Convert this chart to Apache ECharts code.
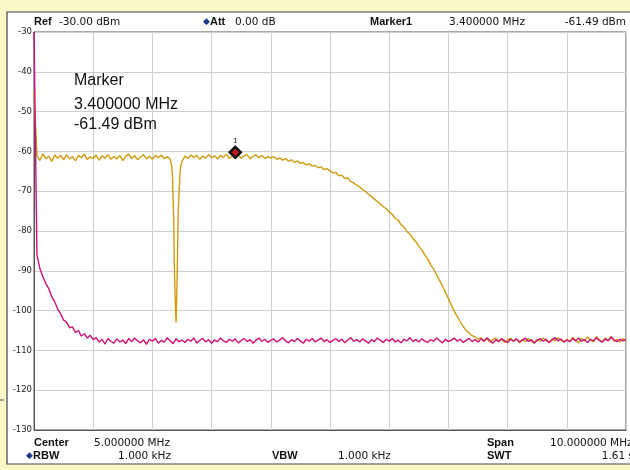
<!DOCTYPE html>
<html>
<head>
<meta charset="utf-8">
<script src="https://cdn.jsdelivr.net/npm/echarts@6/dist/echarts.min.js"></script>
<style>
  html, body { margin: 0; padding: 0; background: #fcf8c6; }
  #chart { width: 630px; height: 470px; }
</style>
</head>
<body>
<div id="chart"></div>
<script>
// sweep: 0 .. 10 MHz, one sample every 0.05 MHz
const startMHz = 0;
const stepMHz = 0.05;

// trace 1 (yellow), dBm
const yellowTrace = [
  -45, -61.0, -62.3, -60.6, -61.8, -61.2, -62.5, -60.9, -61.7, -61.0,
  -62.1, -60.8, -61.9, -61.3, -62.4, -61.0, -61.6, -60.7, -62.0, -61.4,
  -61.8, -60.9, -62.2, -61.1, -61.7, -60.8, -62.0, -61.3, -61.9, -61.0,
  -62.3, -61.2, -60.7, -61.8, -61.1, -62.1, -61.4, -60.8, -61.9, -61.2,
  -62.0, -61.0, -61.6, -60.9, -61.8, -61.3, -62.0, -72.5, -103, -70.5,
  -62.5, -61.2, -61.8, -60.9, -61.5, -61.0, -62.0, -61.2, -61.7, -60.8,
  -61.6, -61.1, -61.9, -61.0, -61.5, -60.7, -61.8, -61.2, -61.5, -60.9,
  -61.7, -61.1, -60.8, -61.9, -61.2, -60.9, -61.6, -61.0, -61.8, -61.3,
  -61.7, -61.3, -62.0, -61.6, -62.2, -61.8, -62.5, -62.1, -62.8, -62.4,
  -63.0, -62.8, -63.4, -63.1, -63.7, -63.5, -64.1, -63.9, -64.6, -64.3,
  -64.9, -65.4, -65.3, -66.1, -66.0, -66.8, -66.7, -67.6, -67.9, -68.5,
  -68.9, -69.6, -70.0, -70.8, -71.3, -72.0, -72.6, -73.2, -73.9, -74.4,
  -75.2, -75.8, -76.8, -77.3, -78.4, -79.0, -80.1, -80.8, -81.9, -82.7,
  -83.8, -84.7, -86.0, -87.0, -88.5, -89.6, -91.0, -92.4, -93.8, -95.4,
  -97.0, -98.6, -100.2, -101.5, -102.8, -104.0, -105.0, -105.6, -106.3, -106.6,
  -107.2, -106.8, -107.6, -107.1, -107.9, -107.3, -106.9, -107.8, -107.2, -108.0,
  -107.4, -106.9, -107.7, -107.1, -108.1, -107.3, -107.8, -107.0, -107.6, -108.2,
  -107.2, -107.7, -106.9, -107.5, -108.0, -107.1, -107.6, -106.8, -107.4, -107.9,
  -107.2, -107.8, -106.7, -107.5, -108.1, -107.0, -107.6, -106.6, -107.3, -107.9,
  -106.5, -107.4, -107.8, -106.9, -107.5, -106.4, -107.7, -107.2, -107.9, -107.0,
  -107.6
];

// extra readings inside the narrow notch near 2.4 MHz
const notchFreq = [2.325, 2.34, 2.36, 2.37, 2.385, 2.41, 2.42, 2.435, 2.465, 2.48];
const notchLevel = [-63.5, -66.5, -77, -88, -97, -97, -90, -76, -66, -63.5];

// trace 2 (magenta), dBm
const magentaTrace = [
  -30, -86, -89.5, -91.5, -93.2, -94.5, -96.5, -97.8, -99.6, -100.8,
  -102.4, -102.9, -104.3, -104.1, -105.5, -105.0, -106.4, -105.8, -106.9, -106.2,
  -107.3, -106.8, -107.9, -107.2, -108.4, -107.0, -107.7, -108.2, -107.1, -107.9,
  -107.4, -108.3, -107.0, -107.8, -106.9, -107.6, -108.1, -107.3, -108.5, -107.2,
  -107.7, -107.0, -108.2, -107.5, -107.9, -106.8, -107.6, -108.3, -107.1, -107.8,
  -107.4, -108.0, -107.2, -107.7, -106.9, -108.1, -107.5, -107.0, -107.9, -107.3,
  -108.2, -107.4, -107.8, -106.9, -107.6, -108.0, -107.2, -107.7, -107.1, -108.1,
  -107.5, -107.0, -107.8, -107.3, -108.2, -107.4, -106.9, -107.7, -107.2, -108.0,
  -107.5, -107.1, -107.9, -107.4, -106.8, -107.6, -108.1, -107.3, -107.8, -107.0,
  -107.6, -108.2, -107.2, -107.7, -107.0, -107.9, -107.4, -106.9, -107.8, -107.3,
  -108.0, -107.5, -107.0, -107.8, -107.2, -108.1, -107.4, -106.8, -107.7, -107.3,
  -107.9, -107.1, -107.6, -108.2, -107.3, -107.8, -106.9, -107.5, -108.0, -107.2,
  -107.7, -107.0, -107.9, -107.4, -108.1, -107.2, -107.6, -106.8, -107.8, -107.3,
  -107.9, -107.1, -107.6, -108.0, -107.3, -107.7, -106.9, -107.5, -108.1, -107.2,
  -107.8, -107.4, -106.9, -107.7, -107.2, -108.0, -107.5, -107.0, -107.8, -107.3,
  -107.9, -107.1, -107.7, -106.8, -107.5, -108.2, -107.3, -107.8, -107.0, -107.6,
  -108.0, -107.2, -107.7, -107.1, -107.9, -107.4, -106.9, -107.8, -107.3, -108.1,
  -107.5, -107.0, -107.7, -107.2, -108.0, -107.4, -106.8, -107.6, -107.1, -107.9,
  -107.4, -107.8, -107.0, -107.6, -106.9, -107.7, -107.3, -108.0, -107.2, -107.6,
  -106.8, -107.5, -107.9, -107.1, -107.6, -106.7, -107.4, -107.8, -107.2, -107.6,
  -107.3
];

// marker 1
const markerFreq = 3.4;
const markerLevel = -61.49;

// y axis
const yMin = -130;
const yMax = -30;
const yStep = 10;

const chart = echarts.init(document.getElementById('chart'));

function toPairs(levels) {
  return levels.map((v, i) => [+(startMHz + i * stepMHz).toFixed(3), v]);
}

const yellowData = toPairs(yellowTrace)
  .concat(notchFreq.map((f, i) => [f, notchLevel[i]]))
  .sort((a, b) => a[0] - b[0]);
const magentaData = toPairs(magentaTrace);

const hdrFont = '10.5px "DejaVu Sans"';
const boldFont = 'bold 11px "Liberation Sans"';

function txt(x, y, text, font, align, fill) {
  return {
    type: 'text', z: 10,
    style: {
      x: x, y: y, text: text, font: font,
      fill: fill || '#111', align: align || 'left', verticalAlign: 'middle'
    }
  };
}

const option = {
  backgroundColor: '#fcf8c6',
  animation: false,
  grid: {
    left: 34, right: 4, top: 32, bottom: 40,
    show: true, borderColor: '#555', borderWidth: 1
  },
  xAxis: {
    type: 'value', min: 0, max: 10, interval: 1,
    axisLine: { show: true, lineStyle: { color: '#555' } },
    axisTick: { show: false },
    axisLabel: { show: false },
    splitLine: { show: true, lineStyle: { color: '#cfcfcf', width: 1 } }
  },
  yAxis: {
    type: 'value', min: yMin, max: yMax, interval: yStep,
    axisLine: { show: true, lineStyle: { color: '#555' } },
    axisTick: { show: false },
    axisLabel: {
      margin: 2, fontFamily: 'DejaVu Sans', fontSize: 8.5, color: '#222'
    },
    splitLine: { show: true, lineStyle: { color: '#cfcfcf', width: 1 } }
  },
  series: [
    {
      name: 'Trace 1', type: 'line', data: yellowData,
      showSymbol: false, symbol: 'none',
      lineStyle: { color: '#cf9b12', width: 1.4 },
      markPoint: {
        symbol: 'diamond', symbolSize: [11, 11], symbolOffset: [0, -5],
        itemStyle: { color: '#c4141c', borderColor: '#111', borderWidth: 2.5 },
        label: {
          show: true, position: 'top', distance: 1, formatter: '1',
          fontFamily: 'DejaVu Sans', fontSize: 7, color: '#111'
        },
        data: [{ coord: [markerFreq, markerLevel] }]
      }
    },
    {
      name: 'Trace 2', type: 'line', data: magentaData,
      showSymbol: false, symbol: 'none',
      lineStyle: { color: '#cc1077', width: 1.4 }
    }
  ],
  graphic: [
    // white instrument panel
    {
      type: 'rect', z: -10,
      shape: { x: 7, y: 12, width: 640, height: 452 },
      style: { fill: '#fff', stroke: '#444', lineWidth: 1.2 }
    },
    { type: 'line', z: -5, shape: { x1: 0, y1: 400, x2: 4, y2: 400 }, style: { stroke: '#555', lineWidth: 1 } },
    // header
    txt(34, 22, 'Ref', boldFont),
    txt(59, 22, '-30.00 dBm', hdrFont),
    txt(203, 22, '\u25C6', '9px "DejaVu Sans"', 'left', '#1d3a8c'),
    txt(210, 22, 'Att', boldFont),
    txt(235, 22, '0.00 dB', hdrFont),
    txt(370, 22, 'Marker1', boldFont),
    txt(449, 22, '3.400000 MHz', hdrFont),
    txt(626, 22, '-61.49 dBm', hdrFont, 'right'),
    // footer
    txt(34, 443, 'Center', boldFont),
    txt(94, 443, '5.000000 MHz', hdrFont),
    txt(26, 456, '\u25C6', '9px "DejaVu Sans"', 'left', '#1d3a8c'),
    txt(33, 456, 'RBW', boldFont),
    txt(171, 456, '1.000 kHz', hdrFont, 'right'),
    txt(272, 456, 'VBW', boldFont),
    txt(338, 456, '1.000 kHz', hdrFont),
    txt(487, 443, 'Span', boldFont),
    txt(550, 443, '10.000000 MHz', hdrFont),
    txt(487, 456, 'SWT', boldFont),
    txt(634, 456, '1.61 s', hdrFont, 'right'),
    // marker readout inside the plot
    txt(74, 81, 'Marker', '16px "Liberation Sans"'),
    txt(74, 105, '3.400000 MHz', '16px "Liberation Sans"'),
    txt(74, 125, '-61.49 dBm', '16px "Liberation Sans"')
  ]
};

chart.setOption(option);
</script>
</body>
</html>
